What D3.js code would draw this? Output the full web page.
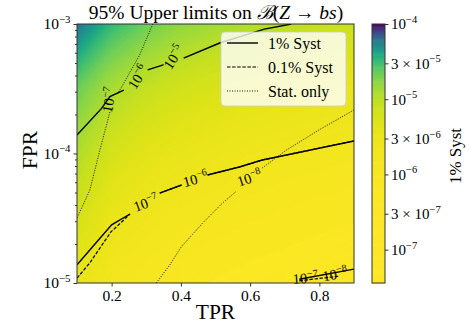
<!DOCTYPE html>
<html>
<head>
<meta charset="utf-8">
<script src="https://cdn.jsdelivr.net/npm/d3@7"></script>
<style>
  body { margin: 0; background: #fff; }
</style>
</head>
<body>
<svg id="chart" width="471" height="324"></svg>
<script>
// heat map nodes: 1% syst upper limit, in units of 1e-6 (rows: FPR 1e-3 down to 1e-5)
var tprNodes = [0.1, 0.2, 0.3, 0.4, 0.5, 0.6, 0.7, 0.8, 0.9];
var logFprNodes = [-3, -3.5, -4, -4.5, -5];
var limitGrid = [
  [65, 34, 23, 17, 14, 12, 10.5, 9, 8],
  [23, 13, 9, 7, 5.8, 5, 4.3, 3.8, 3.4],
  [12, 6.5, 4.5, 3.5, 2.9, 2.4, 2.1, 1.9, 1.7],
  [6.5, 3.4, 2.4, 1.8, 1.5, 1.25, 1.1, 0.94, 0.83],
  [3.6, 1.9, 1.25, 0.94, 0.75, 0.63, 0.54, 0.47, 0.42]
];

// contour lines [tpr, fpr], split where the inline labels sit
var syst1Lines = [
  [[0.1, 1.39e-4], [0.171, 2.23e-4], [0.195, 2.75e-4], [0.235, 3.09e-4]],
  [[0.304, 4.42e-4], [0.347, 4.82e-4], [0.35, 4.85e-4]],
  [[0.408, 5.46e-4], [0.512, 7.13e-4], [0.641, 9.14e-4], [0.719, 1e-3]],
  [[0.1, 1.38e-5], [0.137, 1.80e-5], [0.2, 2.81e-5], [0.253, 3.41e-5]],
  [[0.339, 4.95e-5], [0.402, 5.71e-5]],
  [[0.477, 6.82e-5], [0.569, 7.87e-5], [0.635, 8.91e-5], [0.771, 1.06e-4], [0.9, 1.25e-4]],
  [[0.742, 1.07e-5], [0.9, 1.28e-5]]
];
var syst01Lines = [
  [[0.1, 1.09e-5], [0.137, 1.43e-5], [0.198, 2.48e-5], [0.229, 2.96e-5], [0.253, 3.41e-5]],
  [[0.339, 4.95e-5], [0.402, 5.71e-5]],
  [[0.477, 6.82e-5], [0.569, 7.87e-5], [0.635, 8.91e-5], [0.771, 1.06e-4], [0.9, 1.25e-4]],
  [[0.742, 1.04e-5], [0.857, 1.13e-5]]
];
var statLines = [
  [[0.319, 1e-3], [0.281, 5.77e-4], [0.229, 3.27e-4], [0.215, 2.83e-4]],
  [[0.204, 2.24e-4], [0.195, 2.09e-4], [0.166, 1.06e-4], [0.137, 5.22e-5], [0.1, 3.17e-5]],
  [[0.329, 1e-5], [0.368, 1.38e-5], [0.401, 1.90e-5], [0.463, 2.90e-5], [0.517, 4.07e-5], [0.558, 5.05e-5]],
  [[0.635, 7.73e-5], [0.704, 1.06e-4], [0.799, 1.52e-4], [0.9, 2.17e-4]]
];
// inline labels: tpr, fpr, exponent, angle
var contourLabels = [
  [0.192, 2.59e-4, -7, -80],
  [0.276, 3.90e-4, -6, -58],
  [0.379, 5.56e-4, -5, -57],
  [0.299, 4.15e-5, -7, -20],
  [0.442, 6.35e-5, -6, -15],
  [0.598, 6.47e-5, -8, -18],
  [0.759, 1.09e-5, -7, -4],
  [0.845, 1.17e-5, -8, -10]
];

var xTicks = [0.2, 0.4, 0.6, 0.8];
var yTicks = [1e-5, 1e-4, 1e-3];
var cbTicks = [1e-4, 3e-5, 1e-5, 3e-6, 1e-6, 3e-7, 1e-7];
var legendNames = ["1% Syst", "0.1% Syst", "Stat. only"];

var serif = "'Liberation Serif', 'DejaVu Serif', serif";
var margin = {left: 77, right: 354, top: 24, bottom: 283};
var svg = d3.select("#chart");

function font(sel, size) {
  return sel.style("font-family", serif).style("font-size", size + "px").style("fill", "#000");
}

var x = d3.scaleLinear().domain([0.1, 0.9]).range([margin.left, margin.right]);
var y = d3.scaleLog().domain([1e-5, 1e-3]).range([margin.bottom, margin.top]);
var vmax = 1e-4;
function colorOf(v) { return d3.interpolateViridis(Math.max(0, 1 - v / vmax)); }

svg.append("clipPath").attr("id", "plotclip")
  .append("rect").attr("x", margin.left).attr("y", margin.top)
  .attr("width", margin.right - margin.left).attr("height", margin.bottom - margin.top);

// filled contours of the heat map
var nx = tprNodes.length, ny = logFprNodes.length;
var values = [];
limitGrid.forEach(function(row) { row.forEach(function(v) { values.push(Math.log10(v)); }); });
var lo = d3.min(values), hi = d3.max(values);
var thresholds = d3.range(lo - 0.01, hi, 0.015);
var bands = d3.contours().size([nx, ny]).thresholds(thresholds)(values);

var dt = tprNodes[1] - tprNodes[0], dl = logFprNodes[1] - logFprNodes[0];
var gridProj = d3.geoTransform({
  point: function(c, r) {
    this.stream.point(x(tprNodes[0] + (c - 0.5) * dt), y(Math.pow(10, logFprNodes[0] + (r - 0.5) * dl)));
  }
});
var heat = svg.append("g").attr("clip-path", "url(#plotclip)");
heat.append("rect").attr("x", margin.left).attr("y", margin.top)
  .attr("width", margin.right - margin.left).attr("height", margin.bottom - margin.top)
  .attr("fill", colorOf(Math.pow(10, lo) * 1e-6));
heat.selectAll("path.band").data(bands).enter().append("path")
  .attr("class", "band")
  .attr("d", d3.geoPath(gridProj))
  .attr("fill", function(d) { return colorOf(Math.pow(10, d.value) * 1e-6); })
  .attr("stroke", function(d) { return colorOf(Math.pow(10, d.value) * 1e-6); })
  .attr("stroke-width", 0.3);

// contour lines
var line = d3.line().x(function(d) { return x(d[0]); }).y(function(d) { return y(d[1]); });
var lines = svg.append("g").attr("clip-path", "url(#plotclip)").attr("fill", "none").attr("stroke", "#000");
lines.selectAll("path.stat").data(statLines).enter().append("path")
  .attr("d", line).attr("stroke-width", 0.9).attr("stroke-dasharray", "1,1.5");
lines.selectAll("path.s01").data(syst01Lines).enter().append("path")
  .attr("d", line).attr("stroke-width", 1.2).attr("stroke-dasharray", "3.5,1.6");
lines.selectAll("path.s1").data(syst1Lines).enter().append("path")
  .attr("d", line).attr("stroke-width", 1.4);

function powerLabel(sel, base, exp, size) {
  sel.append("tspan").text(base);
  sel.append("tspan").attr("dy", -size * 0.42).style("font-size", (size * 0.7) + "px").text("\u2212" + Math.abs(exp));
}

svg.append("g").selectAll("text").data(contourLabels).enter().append("text")
  .attr("transform", function(d) { return "translate(" + x(d[0]) + "," + y(d[1]) + ") rotate(" + d[3] + ")"; })
  .attr("text-anchor", "middle").attr("dy", "0.35em")
  .call(font, 14.5)
  .each(function(d) { powerLabel(d3.select(this), "10", d[2], 14.5); });

// frame
svg.append("rect").attr("x", margin.left).attr("y", margin.top)
  .attr("width", margin.right - margin.left).attr("height", margin.bottom - margin.top)
  .attr("fill", "none").attr("stroke", "#333").attr("stroke-width", 1);

// axes
var gx = svg.append("g").attr("transform", "translate(0," + margin.bottom + ")")
  .call(d3.axisBottom(x).tickValues(xTicks).tickFormat(d3.format(".1f")).tickSize(3.5).tickPadding(3));
gx.selectAll("text").call(font, 15.5);

var yMinor = [];
[1e-5, 1e-4].forEach(function(b) { for (var k = 2; k <= 9; k++) yMinor.push(b * k); });
svg.append("g").attr("transform", "translate(" + margin.left + ",0)")
  .call(d3.axisLeft(y).tickValues(yMinor).tickFormat("").tickSize(2));
var gy = svg.append("g").attr("transform", "translate(" + margin.left + ",0)")
  .call(d3.axisLeft(y).tickValues(yTicks).tickFormat("").tickSize(3.5).tickPadding(3));
gy.selectAll(".tick text").call(font, 15.5)
  .each(function(d) { powerLabel(d3.select(this), "10", Math.round(Math.log10(d)), 15.5); });
svg.selectAll(".domain").remove();
svg.selectAll(".tick line").attr("stroke", "#333");

svg.append("text").attr("x", (margin.left + margin.right) / 2).attr("y", 319)
  .attr("text-anchor", "middle").call(font, 21.5).text("TPR");
svg.append("text").attr("transform", "translate(37,150) rotate(-90)")
  .attr("text-anchor", "middle").call(font, 21.5).text("FPR");

// title
var title = svg.append("text").attr("x", 216).attr("y", 19).attr("text-anchor", "middle").call(font, 19.5);
title.append("tspan").text("95% Upper limits on ");
title.append("tspan").style("font-style", "italic").text("\u212C");
title.append("tspan").text("(");
title.append("tspan").style("font-style", "italic").text("Z");
title.append("tspan").text(" \u2192 ");
title.append("tspan").style("font-style", "italic").text("bs");
title.append("tspan").text(")");

// legend
var lg = svg.append("g");
lg.append("rect").attr("x", 221).attr("y", 32).attr("width", 125).attr("height", 74).attr("rx", 4)
  .attr("fill", "#fff").attr("fill-opacity", 0.8).attr("stroke", "#ccc").attr("stroke-opacity", 0.8);
var legendDash = [null, "3.5,1.6", "1,1.5"];
var legendWidth = [1.4, 1.2, 0.9];
legendNames.forEach(function(name, i) {
  var ly = 43 + i * 24;
  lg.append("line").attr("x1", 227).attr("x2", 258).attr("y1", ly).attr("y2", ly)
    .attr("stroke", "#000").attr("stroke-width", legendWidth[i])
    .attr("stroke-dasharray", legendDash[i]);
  lg.append("text").attr("x", 268).attr("y", ly + 5.5).call(font, 16).text(name);
});

// colorbar
var cb = {x: 372, w: 13};
var cy = d3.scaleLog().domain([3.6e-8, 1e-4]).range([margin.bottom, margin.top]);
var steps = d3.range(0, 240);
var lmin = Math.log10(3.6e-8), lmax = -4;
svg.append("g").selectAll("rect").data(steps).enter().append("rect")
  .attr("x", cb.x).attr("width", cb.w)
  .attr("y", function(i) { return cy(Math.pow(10, lmin + (i + 1) * (lmax - lmin) / steps.length)); })
  .attr("height", function(i) {
    return cy(Math.pow(10, lmin + i * (lmax - lmin) / steps.length)) - cy(Math.pow(10, lmin + (i + 1) * (lmax - lmin) / steps.length)) + 0.6;
  })
  .attr("fill", function(i) { return colorOf(Math.pow(10, lmin + (i + 0.5) * (lmax - lmin) / steps.length)); });
svg.append("rect").attr("x", cb.x).attr("y", margin.top).attr("width", cb.w)
  .attr("height", margin.bottom - margin.top).attr("fill", "none").attr("stroke", "#333");
var gc = svg.append("g").attr("transform", "translate(" + (cb.x + cb.w) + ",0)")
  .call(d3.axisRight(cy).tickValues(cbTicks).tickFormat("").tickSize(3.5).tickPadding(2.5));
gc.select(".domain").remove();
gc.selectAll(".tick line").attr("stroke", "#333");
gc.selectAll(".tick text").call(font, 15)
  .each(function(d) {
    var e = Math.floor(Math.log10(d) + 1e-9);
    var m = Math.round(d / Math.pow(10, e));
    powerLabel(d3.select(this), m === 1 ? "10" : m + " \u00D7 10", e, 15);
  });
svg.append("text").attr("transform", "translate(461,156) rotate(-90)")
  .attr("text-anchor", "middle").call(font, 17).text("1% Syst");
</script>
</body>
</html>
